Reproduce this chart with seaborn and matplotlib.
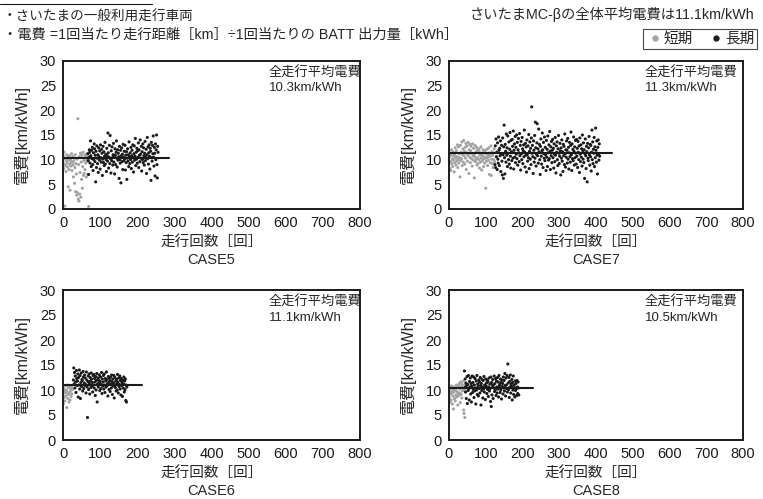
import numpy as np
import pandas as pd
import seaborn as sns
import matplotlib.pyplot as plt
from matplotlib.lines import Line2D

# ---- data (y = 電費 km/kWh, one point per run) ----
CASE_NAMES = ["CASE5", "CASE7", "CASE6", "CASE8"]
MEAN_VALUES = [10.3, 11.3, 11.1, 10.5]
MEAN_LINE_END = [285, 444, 213, 229]

# CASE5
case5_short_start = 0
case5_short = [
    9.5, 10.8, 8.2, 11.5, 9.0, 0.6, 10.2, 8.8, 7.6, 9.8,
    11.0, 9.3, 8.5, 10.5, 4.5, 9.9, 8.0, 10.8, 9.1, 3.8,
    10.0, 8.7, 9.6, 11.2, 7.8, 9.4, 10.6, 8.9, 6.5, 9.7,
    10.3, 5.2, 8.4, 11.0, 3.5, 9.2, 7.1, 2.8, 10.1, 3.3,
    18.3, 2.0, 9.0, 1.6, 10.6, 3.0, 7.4, 11.3, 2.4, 9.5,
    6.0, 10.9, 4.2, 8.6, 11.5, 6.8, 9.8, 7.2, 10.4, 8.0,
    11.0, 9.3, 10.7, 6.5, 9.9, 11.2, 10.1, 7.0, 9.6, 0.5, 10.3,
]
case5_long_start = 67
case5_long = [
    11.2, 9.8, 7.0, 10.5, 12.0, 11.5, 9.3, 13.8, 10.8, 8.6, 11.9, 10.2, 12.5, 9.0, 7.8, 11.4, 10.0, 13.2, 12.2, 9.6,
    10.9, 5.5, 11.7, 8.4, 12.8, 10.3, 9.2, 11.0, 7.4, 12.4, 10.6, 9.9, 11.8, 8.1, 13.0, 10.4, 9.5, 12.1, 11.3, 6.8,
    10.1, 12.7, 9.4, 11.6, 8.8, 10.7, 13.5, 9.1, 11.1, 10.0, 7.6, 12.3, 10.8, 9.7, 15.4, 11.4, 8.3, 10.5, 12.9, 9.2,
    14.9, 10.2, 7.3, 11.8, 9.8, 12.6, 10.4, 8.9, 11.0, 13.3, 9.5, 10.7, 7.1, 12.2, 10.9, 9.0, 11.5, 13.8, 10.3, 8.5,
    12.0, 9.9, 11.3, 10.6, 6.2, 12.7, 10.0, 9.3, 11.9, 5.3, 10.8, 12.4, 9.6, 11.1, 8.0, 13.1, 10.5, 9.8, 11.7, 10.2,
    12.9, 7.9, 10.9, 9.4, 11.6, 6.0, 10.3, 12.2, 9.7, 11.0, 8.6, 13.6, 10.6, 9.2, 11.4, 10.0, 12.5, 8.2, 10.8, 11.9,
    9.5, 13.0, 10.4, 7.5, 11.2, 12.8, 9.9, 10.7, 14.3, 8.8, 11.5, 10.1, 12.3, 9.3, 11.8, 10.5, 13.4, 8.4, 12.0, 10.9,
    9.6, 14.0, 11.1, 10.3, 12.7, 7.7, 11.6, 10.0, 13.2, 9.4, 12.4, 10.8, 8.9, 11.3, 13.7, 9.8, 10.6, 12.1, 7.2, 11.0,
    14.5, 10.2, 12.6, 9.1, 11.4, 13.0, 10.7, 8.1, 12.3, 11.7, 5.8, 13.5, 10.4, 9.7, 12.9, 11.2, 14.8, 10.5, 8.7, 12.5,
    11.3, 6.7, 13.2, 10.0, 12.0, 15.0, 9.0, 6.3, 12.7, 11.5,
]

# CASE7
case7_short_start = 0
case7_short = [
    9.0, 10.5, 8.2, 11.3, 9.6, 7.8, 10.9, 12.0, 9.2, 10.1, 8.6, 11.6, 9.9, 10.7, 7.5, 11.0, 9.4, 12.4, 10.3, 8.9,
    11.8, 9.7, 10.6, 13.0, 8.4, 10.0, 12.6, 9.3, 11.2, 10.4, 6.5, 12.9, 9.8, 11.5, 10.2, 13.6, 8.8, 11.0, 12.2, 9.5,
    13.9, 10.8, 11.7, 9.1, 12.5, 10.3, 13.3, 8.0, 11.4, 12.8, 9.7, 10.9, 13.5, 11.1, 7.2, 12.0, 10.5, 13.1, 9.4, 11.8,
    12.7, 10.2, 11.3, 8.7, 13.2, 10.8, 9.9, 12.3, 11.0, 6.3, 10.6, 12.9, 9.6, 11.5, 10.1, 12.5, 8.9, 11.9, 10.4, 9.2,
    11.7, 10.0, 12.2, 8.3, 10.9, 11.4, 9.5, 12.6, 10.3, 7.9, 11.1, 9.8, 10.7, 12.0, 8.6, 11.5, 10.2, 9.3, 11.8, 10.5,
    4.2, 11.2, 9.7, 12.1, 10.4, 8.8, 11.0, 9.9, 12.4, 10.6, 7.0, 11.3, 9.4, 10.8, 12.8, 6.8, 10.1, 11.6, 9.2, 10.9,
    8.4, 11.4, 10.0, 12.2, 9.6,
]
case7_long_start = 125
case7_long = [
    9.0, 12.8, 8.4, 14.2, 10.6, 11.5, 8.0, 13.4, 10.1, 9.3, 14.6, 11.9, 8.8, 12.3, 10.8, 13.8, 7.6, 11.2, 12.9, 9.7,
    6.9, 14.4, 11.0, 6.2, 12.6, 17.0, 10.4, 7.1, 13.1, 11.7, 9.5, 15.2, 10.9, 12.4, 8.6, 14.8, 11.3, 10.0, 13.6, 9.1,
    12.1, 15.5, 10.7, 8.3, 13.9, 11.6, 9.8, 14.1, 12.7, 10.3, 15.8, 8.1, 11.9, 13.2, 10.5, 14.7, 9.4, 12.5, 11.1, 15.0,
    10.2, 13.5, 8.9, 12.0, 14.3, 11.4, 9.6, 15.3, 10.8, 12.9, 7.9, 13.7, 11.2, 10.0, 14.5, 12.2, 9.2, 11.8, 13.0, 10.6,
    16.0, 11.5, 8.5, 13.3, 10.9, 12.6, 7.5, 14.0, 11.0, 9.7, 12.8, 10.4, 15.1, 8.2, 11.7, 13.6, 10.1, 12.3, 9.0, 14.4,
    20.7, 11.3, 12.9, 10.6, 7.2, 13.8, 11.9, 9.5, 14.9, 10.3, 17.6, 12.4, 8.7, 11.1, 13.4, 17.3, 10.8, 12.2, 9.3, 16.2,
    11.6, 13.1, 10.0, 7.0, 12.7, 14.2, 10.7, 9.1, 11.8, 15.4, 12.0, 8.4, 13.5, 11.2, 10.3, 14.6, 9.8, 12.5, 11.0, 7.8,
    13.9, 10.5, 12.1, 8.6, 14.8, 11.4, 9.9, 13.0, 10.2, 15.7, 11.7, 8.0, 12.6, 10.8, 13.7, 9.4, 11.9, 14.1, 10.4, 12.3,
    8.3, 13.2, 11.1, 9.6, 14.5, 10.9, 7.3, 12.8, 11.5, 13.6, 10.0, 8.8, 12.2, 14.9, 11.3, 9.2, 10.7, 13.3, 11.8, 6.9,
    12.4, 10.3, 14.0, 9.7, 11.6, 7.6, 13.1, 10.8, 12.7, 9.0, 15.2, 11.2, 8.5, 12.0, 10.5, 13.8, 11.9, 9.3, 14.3, 10.1,
    12.5, 8.1, 11.4, 13.5, 10.6, 9.5, 12.9, 15.6, 11.0, 7.8, 13.2, 10.2, 12.1, 9.8, 14.6, 11.7, 8.9, 12.6, 10.4, 13.9,
    11.3, 9.1, 14.1, 10.7, 12.3, 8.4, 13.7, 11.5, 10.0, 12.8, 7.4, 14.4, 11.1, 9.6, 13.0, 10.5, 12.2, 8.7, 15.0, 11.8,
    10.1, 13.4, 9.4, 12.0, 6.2, 11.2, 14.2, 10.8, 8.2, 12.7, 11.6, 5.5, 13.3, 10.3, 9.8, 12.4, 14.7, 11.0, 8.9, 13.1,
    10.6, 12.9, 7.7, 11.5, 16.0, 10.0, 13.6, 9.2, 12.1, 11.3, 14.5, 8.6, 12.6, 10.4, 16.4, 11.9, 9.5, 13.8, 10.9, 7.1,
    12.5, 14.0, 11.1, 9.9, 13.2, 10.7,
]

# CASE6
case6_short_start = 0
case6_short = [
    9.0, 7.2, 10.2, 8.5, 9.8, 7.8, 10.8, 9.4, 8.8, 10.0, 6.5, 9.6, 11.0, 8.3, 10.5, 9.1, 7.6, 10.9, 9.5, 8.0,
    10.3, 9.9, 8.7, 10.6, 9.2, 10.1,
]
case6_long_start = 28
case6_long = [
    12.0, 14.4, 11.2, 13.5, 10.4, 12.8, 11.6, 9.5, 13.9, 12.3, 10.9, 11.8, 13.2, 8.6, 12.5, 11.0, 14.0, 10.2, 12.9, 8.3,
    11.5, 13.4, 10.7, 12.1, 11.9, 9.8, 13.7, 12.6, 10.3, 11.4, 13.0, 10.9, 12.4, 11.1, 9.4, 13.6, 12.0, 10.6, 4.5, 11.7,
    12.8, 10.1, 13.2, 11.3, 9.2, 12.5, 11.8, 10.5, 13.4, 12.2, 10.8, 11.5, 9.6, 12.9, 11.0, 13.1, 10.4, 12.3, 11.6, 8.9,
    12.7, 10.0, 11.9, 13.3, 7.6, 11.2, 12.4, 10.6, 12.0, 11.4, 13.0, 9.9, 11.7, 12.6, 10.3, 11.1, 13.5, 9.3, 12.2, 10.8,
    11.6, 12.9, 10.2, 13.2, 11.0, 9.5, 12.3, 11.8, 10.6, 13.6, 12.1, 10.9, 11.3, 8.8, 12.7, 11.5, 10.1, 12.4, 11.9, 9.7,
    12.6, 11.2, 10.4, 13.0, 11.7, 9.1, 12.2, 10.8, 11.4, 12.9, 8.4, 11.0, 12.5, 10.5, 11.8, 9.8, 12.1, 11.3, 10.0, 13.1,
    11.6, 9.4, 12.4, 10.7, 11.1, 12.8, 10.2, 11.9, 9.0, 12.3, 10.9, 11.5, 8.7, 12.0, 10.4, 11.2, 12.6, 9.6, 11.8, 10.1,
    12.2, 7.9, 11.0, 7.6, 10.6,
]

# CASE8
case8_short_start = 0
case8_short = [
    10.0, 8.5, 9.8, 7.6, 10.4, 9.2, 8.0, 10.8, 9.5, 7.2, 10.1, 8.8, 6.2, 9.6, 10.6, 8.3, 9.9, 7.8, 10.3, 9.0,
    11.0, 8.6, 9.7, 10.5, 7.0, 9.3, 10.9, 8.9, 11.3, 9.4, 10.2, 7.5, 11.6, 9.1, 10.7, 8.4, 11.1, 9.8, 10.4, 11.8,
    6.0, 5.3, 10.2, 4.5, 11.0, 9.6,
]
case8_long_start = 42
case8_long = [
    13.8, 10.5, 12.2, 9.6, 11.4, 8.3, 10.9, 12.7, 7.3, 11.1, 9.9, 12.9, 10.2, 8.0, 11.7, 10.6, 12.4, 9.2, 11.3, 7.6,
    10.8, 12.8, 9.5, 11.5, 10.1, 12.6, 8.5, 11.0, 9.8, 12.3, 10.4, 7.2, 11.8, 10.0, 12.9, 9.1, 11.2, 10.7, 8.8, 12.0,
    10.3, 11.6, 9.4, 12.5, 10.9, 7.0, 11.3, 9.9, 12.1, 10.6, 8.4, 11.9, 10.2, 12.7, 9.6, 11.0, 10.5, 8.1, 12.2, 10.8,
    11.4, 9.3, 12.0, 10.1, 11.7, 8.7, 10.6, 12.4, 9.8, 11.2, 10.3, 7.7, 12.6, 6.7, 11.5, 9.0, 10.9, 12.1, 8.3, 11.0,
    10.4, 12.8, 9.7, 11.3, 10.0, 12.3, 8.9, 11.8, 10.6, 9.4, 12.5, 10.2, 11.6, 8.6, 12.9, 10.8, 11.1, 9.5, 12.2, 10.0,
    11.5, 8.2, 12.0, 10.7, 11.3, 9.2, 12.6, 10.4, 11.9, 9.8, 13.3, 10.9, 8.8, 12.4, 11.0, 10.3, 12.9, 9.6, 15.2, 11.4,
    10.1, 12.5, 8.5, 11.7, 10.6, 13.0, 9.4, 11.2, 10.8, 12.1, 8.0, 11.5, 10.0, 12.8, 9.1, 11.0, 10.5, 8.6, 11.8, 9.9,
    11.3, 10.2, 8.9, 11.9, 10.6, 9.3, 11.6, 10.4, 9.0,
]

SHORT = [(case5_short_start, case5_short), (case7_short_start, case7_short),
         (case6_short_start, case6_short), (case8_short_start, case8_short)]
LONG = [(case5_long_start, case5_long), (case7_long_start, case7_long),
        (case6_long_start, case6_long), (case8_long_start, case8_long)]

X_TICKS = [0, 100, 200, 300, 400, 500, 600, 700, 800]
Y_TICKS = [0, 5, 10, 15, 20, 25, 30]

GREY = "#a3a3a3"
BLACK = "#1a1a1a"

sns.set_theme(style="white")
plt.rcParams["font.family"] = ["Liberation Sans", "Noto Sans CJK JP", "DejaVu Sans"]
plt.rcParams["axes.unicode_minus"] = False

W, H = 763, 499
fig = plt.figure(figsize=(W / 100, H / 100), dpi=100)

# axes boxes in pixels: left, top, right, bottom
boxes = [(63, 61, 360, 209), (449, 61, 743, 209), (63, 290, 360, 440), (449, 290, 743, 440)]
text_x = [269, 645, 269, 645]


def to_frame(start, values, group):
    return pd.DataFrame({"run": start + np.arange(len(values)), "eff": values, "group": group})


for i, (l, t, r, b) in enumerate(boxes):
    ax = fig.add_axes([l / W, 1 - b / H, (r - l) / W, (b - t) / H])
    df = pd.concat([to_frame(*SHORT[i], "短期"), to_frame(*LONG[i], "長期")])
    sns.scatterplot(data=df, x="run", y="eff", hue="group", palette={"短期": GREY, "長期": BLACK},
                    s=5, linewidth=0, legend=False, ax=ax)
    ax.plot([0, MEAN_LINE_END[i]], [MEAN_VALUES[i], MEAN_VALUES[i]], color=BLACK, lw=1.5)

    ax.set_xlim(0, 800)
    ax.set_ylim(0, 30)
    ax.set_xticks(X_TICKS)
    ax.set_yticks(Y_TICKS)
    ax.tick_params(direction="in", length=3, width=0.8, labelsize=10.5, pad=5, colors=BLACK)
    for sp in ax.spines.values():
        sp.set_color(BLACK)
        sp.set_linewidth(1.4)
    ax.set_ylabel("電費[km/kWh]", fontsize=11.5, labelpad=7)
    ax.set_xlabel("走行回数［回］\n" + CASE_NAMES[i], fontsize=10.5, labelpad=4, linespacing=1.35)

    tx = (text_x[i] - l) / (r - l)
    ax.text(tx, 0.92, "全走行平均電費", transform=ax.transAxes, fontsize=9.5, va="center", ha="left")
    ax.text(tx, 0.815, f"{MEAN_VALUES[i]}km/kWh", transform=ax.transAxes, fontsize=9.5, va="center", ha="left")

# header texts
fig.add_artist(Line2D([0, 152 / W], [1 - 4 / H, 1 - 4 / H], color=BLACK, lw=0.8))
fig.text(3 / W, 1 - 17 / H, "・さいたまの一般利用走行車両", fontsize=9.8, va="center", ha="left")
fig.text(3 / W, 1 - 35 / H, "・電費 =1回当たり走行距離［km］÷1回当たりの BATT 出力量［kWh］",
         fontsize=10.3, va="center", ha="left")
fig.text(755 / W, 1 - 14 / H, "さいたまMC-βの全体平均電費は11.1km/kWh",
         fontsize=10.3, va="center", ha="right")

handles = [
    Line2D([], [], marker="o", ls="none", color=GREY, markersize=3.5, label="短期"),
    Line2D([], [], marker="o", ls="none", color=BLACK, markersize=3.5, label="長期"),
]
leg = fig.legend(handles=handles, loc="upper right", bbox_to_anchor=(757 / W, 1 - 29 / H), ncol=2,
                 frameon=True, fontsize=10.5, handletextpad=0.0, columnspacing=1.0,
                 borderpad=0.2, handlelength=1.2, fancybox=False, borderaxespad=0)
leg.get_frame().set_edgecolor(BLACK)
leg.get_frame().set_linewidth(0.8)

fig.savefig("out.png", dpi=100)
